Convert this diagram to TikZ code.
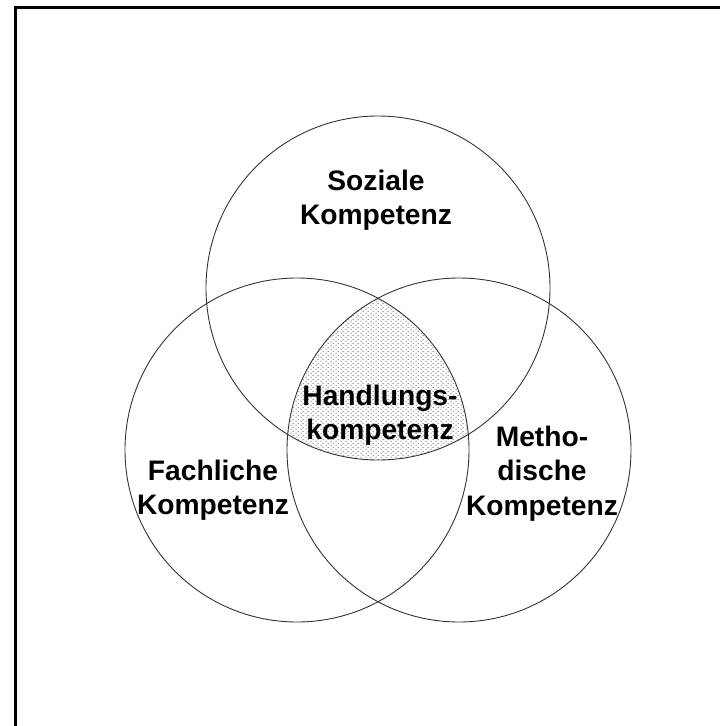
\documentclass[tikz,border=0pt]{standalone}
\usepackage{fontspec}
\setmainfont{Liberation Sans}
\usetikzlibrary{patterns}
\pgfdeclarepatternformonly{vdots}{\pgfpointorigin}{\pgfpoint{5pt}{4pt}}{\pgfpoint{5pt}{4pt}}{%
  \pgfpathcircle{\pgfpoint{1.25pt}{1pt}}{0.7pt}%
  \pgfpathcircle{\pgfpoint{3.75pt}{3pt}}{0.7pt}%
  \pgfusepath{fill}}
\begin{document}
\begin{tikzpicture}[x=1pt,y=-1pt,
  ring/.style={draw=black!80,line width=0.9pt},
  frame/.style={draw=black,line width=3pt},
  lbl/.style={inner sep=0pt,align=center,font=\fontsize{28.2}{34.5}\selectfont\bfseries}]
\useasboundingbox (0,0) rectangle (720,726);
\coordinate (cT) at (378,288);
\coordinate (cL) at (297,450);
\coordinate (cR) at (459,450);
\coordinate (fTL) at (15.5,7.5);
\coordinate (fTR) at (720,7.5);
\coordinate (fBL) at (15.5,726);
% shaded centre region
\begin{scope}
  \clip (cT) circle (172);
  \clip (cL) circle (172);
  \fill[pattern=vdots,pattern color=black!65] (cR) circle (172);
\end{scope}
\draw[ring] (cT) circle (172);
\draw[ring] (cL) circle (172);
\draw[ring] (cR) circle (172);
\draw[frame] (fTR) -- (fTL) -- (fBL);
\node[lbl] (soz) at (376,200) {Soziale\\Kompetenz};
\node[lbl] (hand) at (380,415) {Handlungs-\\kompetenz};
\node[lbl] (fach) at (213,490) {Fachliche\\Kompetenz};
\node[lbl] (meth) at (542,473.5) {Metho-\\dische\\Kompetenz};
\end{tikzpicture}
\end{document}
